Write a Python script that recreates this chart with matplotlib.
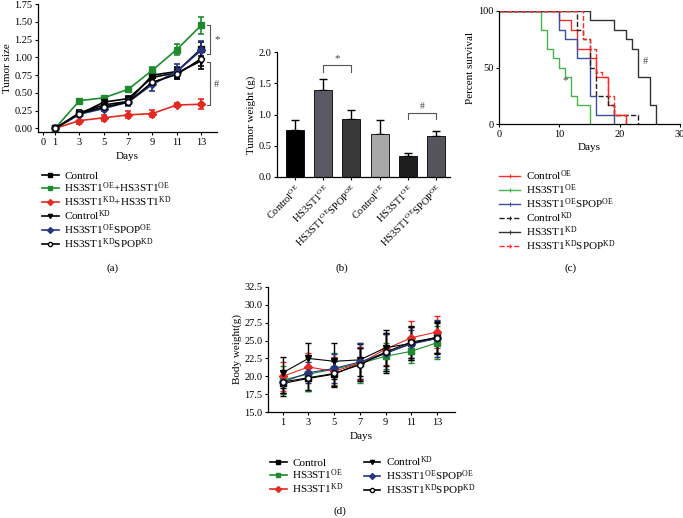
import matplotlib
matplotlib.use("Agg")
import matplotlib.pyplot as plt
from matplotlib.lines import Line2D
import numpy as np

plt.rcParams['font.family'] = ['Liberation Serif', 'DejaVu Serif']
plt.rcParams['mathtext.fontset'] = 'custom'
plt.rcParams['mathtext.rm'] = 'Liberation Serif'
plt.rcParams['mathtext.it'] = 'Liberation Serif:italic'
plt.rcParams['font.size'] = 7.5
plt.rcParams['axes.linewidth'] = 0.9

def sup(a, s):
    return a + r'$^{\mathrm{' + s + '}}$'

# ---------------- Panel (a) data ----------------
days_a = [1, 3, 5, 7, 9, 11, 13]
a_control = [0, 0.22, 0.33, 0.38, 0.75, 0.80, 1.12]
a_control_err = [0, 0.04, 0.05, 0.05, 0.06, 0.07, 0.10]
a_oe = [0, 0.39, 0.43, 0.55, 0.82, 1.11, 1.45]
a_oe_err = [0, 0.03, 0.03, 0.03, 0.04, 0.08, 0.12]
a_kd = [0, 0.11, 0.15, 0.19, 0.21, 0.33, 0.34]
a_kd_err = [0, 0.05, 0.04, 0.05, 0.05, 0.03, 0.07]
a_ctrlkd = [0, 0.20, 0.37, 0.42, 0.72, 0.78, 0.95]
a_ctrlkd_err = [0, 0.03, 0.04, 0.04, 0.06, 0.07, 0.12]
a_oespop = [0, 0.20, 0.28, 0.37, 0.62, 0.80, 1.10]
a_oespop_err = [0, 0.03, 0.04, 0.05, 0.10, 0.10, 0.13]
a_kdspop = [0, 0.21, 0.30, 0.37, 0.65, 0.76, 0.98]
a_kdspop_err = [0, 0.03, 0.04, 0.04, 0.06, 0.06, 0.10]
a_labels = ['Control',
            sup('HS3ST1', 'OE') + '+' + sup('HS3ST1', 'OE'),
            sup('HS3ST1', 'KD') + '+' + sup('HS3ST1', 'KD'),
            sup('Control', 'KD'),
            sup('HS3ST1', 'OE') + sup('SPOP', 'OE'),
            sup('HS3ST1', 'KD') + sup('SPOP', 'KD')]

# ---------------- Panel (b) data ----------------
b_labels = [sup('Control', 'OE'), sup('HS3ST1', 'OE'), sup('HS3ST1', 'OE') + sup('SPOP', 'OE'),
            sup('Control', 'OE'), sup('HS3ST1', 'OE'), sup('HS3ST1', 'OE') + sup('SPOP', 'OE')]
b_values = [0.76, 1.39, 0.93, 0.69, 0.34, 0.66]
b_err = [0.15, 0.18, 0.14, 0.22, 0.05, 0.08]
b_colors = ['#000000', '#5a5a62', '#383838', '#a8a8a8', '#1e1e1e', '#55555c']

# ---------------- Panel (c) data ----------------
c_labels = [sup('Control', 'OE'), sup('HS3ST1', 'OE'), sup('HS3ST1', 'OE') + sup('SPOP', 'OE'),
            sup('Control', 'KD'), sup('HS3ST1', 'KD'), sup('HS3ST1', 'KD') + sup('SPOP', 'KD')]
c_ctrl_oe_t = [0, 10, 12, 13, 15, 16, 18, 19, 21]
c_ctrl_oe_s = [100, 91.7, 83.3, 66.7, 58.3, 41.7, 16.7, 8.3, 0]
c_oe_t = [0, 7, 8, 9, 10, 11, 12, 13, 15]
c_oe_s = [100, 83.3, 66.7, 58.3, 50, 41.7, 25, 16.7, 0]
c_oespop_t = [0, 10, 11, 13, 15, 16, 19]
c_oespop_s = [100, 83.3, 75, 58.3, 25, 8.3, 0]
c_ctrl_kd_t = [0, 13, 14, 15, 16, 18, 19, 23]
c_ctrl_kd_s = [100, 83.3, 75, 50, 25, 16.7, 8.3, 0]
c_kd_t = [0, 15, 19, 21, 22, 23, 25, 26]
c_kd_s = [100, 91.7, 83.3, 75, 66.7, 41.7, 16.7, 0]
c_kdspop_t = [0, 14, 15, 16, 17, 18, 19, 21]
c_kdspop_s = [100, 75, 66.7, 45.8, 41.7, 25, 8.3, 0]

# ---------------- Panel (d) data ----------------
days_d = [1, 3, 5, 7, 9, 11, 13]
d_control = [19.0, 19.7, 20.3, 21.8, 23.2, 24.6, 25.5]
d_control_err = [1.7, 1.8, 1.8, 2.2, 2.7, 2.3, 2.2]
d_oe = [19.5, 20.3, 21.0, 21.8, 22.8, 23.5, 24.7]
d_oe_err = [2.0, 2.3, 2.2, 2.8, 1.8, 1.6, 2.3]
d_kd = [20.0, 21.3, 20.7, 21.8, 23.8, 25.4, 26.2]
d_kd_err = [2.0, 2.0, 2.0, 2.3, 2.2, 2.3, 2.2]
d_ctrlkd = [20.5, 22.5, 22.1, 22.3, 24.0, 24.6, 25.3]
d_ctrlkd_err = [2.2, 2.2, 2.5, 2.2, 2.5, 2.3, 2.2]
d_oespop = [19.2, 20.5, 21.1, 22.0, 23.3, 24.5, 25.3]
d_oespop_err = [1.6, 1.5, 2.0, 2.6, 2.6, 2.0, 2.6]
d_kdspop = [19.2, 19.8, 20.4, 21.6, 23.4, 24.8, 25.4]
d_kdspop_err = [1.6, 1.7, 1.8, 2.3, 2.6, 2.3, 2.2]
d_labels = ['Control', sup('HS3ST1', 'OE'), sup('HS3ST1', 'KD'),
            sup('Control', 'KD'), sup('HS3ST1', 'OE') + sup('SPOP', 'OE'),
            sup('HS3ST1', 'KD') + sup('SPOP', 'KD')]

GREEN = '#1f8a2e'
RED = '#e02a22'
BLUE = '#27357f'

styles = [dict(color='black', marker='s', mfc='black'),
          dict(color=GREEN, marker='s', mfc=GREEN),
          dict(color=RED, marker='D', mfc=RED),
          dict(color='black', marker='v', mfc='black'),
          dict(color=BLUE, marker='D', mfc=BLUE),
          dict(color='black', marker='o', mfc='white')]

W, H = 683, 518
fig = plt.figure(figsize=(W / 100, H / 100), dpi=100)

def rect(l, t, r, b):
    return [l / W, 1 - b / H, (r - l) / W, (b - t) / H]

def style_ax(ax):
    for s in ['top', 'right']:
        ax.spines[s].set_visible(False)
    ax.tick_params(direction='out', length=2.5, width=0.8, labelsize=7.5, pad=1.5)

def proxy(st, lw):
    return Line2D([], [], color=st['color'], marker=st['marker'], mfc=st['mfc'],
                  mec=st['color'], ms=3, lw=lw)

LEGKW = dict(frameon=False, fontsize=8, handletextpad=0.5, labelspacing=-0.05,
             borderaxespad=0, borderpad=0)

# ---------------- (a) ----------------
axa = fig.add_axes(rect(38, 4, 217, 132))
a_series = [(a_control, a_control_err), (a_oe, a_oe_err), (a_kd, a_kd_err),
            (a_ctrlkd, a_ctrlkd_err), (a_oespop, a_oespop_err), (a_kdspop, a_kdspop_err)]
for (vals, err), st, lab in zip(a_series, styles, a_labels):
    axa.errorbar(days_a, vals, yerr=err, color=st['color'], marker=st['marker'],
                 mfc=st['mfc'], mec=st['color'], ms=4, lw=1.2, capsize=2,
                 elinewidth=1.2, capthick=1.2, label=lab)
axa.set_xlim(-0.4, 14.3)
axa.set_ylim(-0.05, 1.75)
axa.set_xticks([0, 1, 3, 5, 7, 9, 11, 13])
axa.set_yticks([0, 0.25, 0.5, 0.75, 1.0, 1.25, 1.5, 1.75])
axa.set_yticklabels(['0.00', '0.25', '0.50', '0.75', '1.00', '1.25', '1.50', '1.75'])
axa.set_xlabel('Days', fontsize=8, labelpad=4)
axa.set_ylabel('Tumor size', fontsize=8, labelpad=2)
style_ax(axa)
bx = 13.7
axa.plot([bx - 0.2, bx, bx, bx - 0.2], [1.45, 1.45, 1.05, 1.05], color='#555555', lw=0.8, clip_on=False)
axa.text(bx + 0.35, 1.25, '*', fontsize=8, va='center', color='#444444')
axa.plot([bx - 0.2, bx, bx, bx - 0.2], [0.93, 0.93, 0.33, 0.33], color='#555555', lw=0.8, clip_on=False)
axa.text(bx + 0.35, 0.62, '#', fontsize=7.5, va='center', color='#444444')

fig.legend(handles=[proxy(st, 1.2) for st in styles], labels=a_labels,
           loc='upper left', bbox_to_anchor=(42 / W, 1 - 171 / H), handlelength=1.5, **LEGKW)
fig.text(113 / W, 1 - 268 / H, '(a)', ha='center', va='center', fontsize=8)

# ---------------- (b) ----------------
axb = fig.add_axes(rect(277, 52, 450, 177))
xb = np.arange(len(b_values))
axb.bar(xb, b_values, width=0.64, color=b_colors, edgecolor='black', linewidth=0.6, zorder=2)
axb.errorbar(xb, b_values, yerr=[np.zeros(len(b_err)), b_err], fmt='none', ecolor='black',
             elinewidth=1.0, capsize=3, capthick=1.0, zorder=1)
axb.set_xlim(-0.64, 5.5)
axb.set_ylim(0, 2.0)
axb.set_yticks([0, 0.5, 1.0, 1.5, 2.0])
axb.set_yticklabels(['0.0', '0.5', '1.0', '1.5', '2.0'])
axb.set_xticks(xb)
axb.set_xticklabels(b_labels, rotation=45, ha='right', rotation_mode='anchor', fontsize=7.5)
axb.set_ylabel('Tumor weight (g)', fontsize=8, labelpad=2)
style_ax(axb)
axb.plot([1, 1, 2, 2], [1.68, 1.80, 1.80, 1.68], color='#555555', lw=0.8)
axb.text(1.5, 1.82, '*', ha='center', va='bottom', fontsize=8, color='#444444')
axb.plot([4, 4, 5, 5], [0.93, 1.03, 1.03, 0.93], color='#555555', lw=0.8)
axb.text(4.5, 1.05, '#', ha='center', va='bottom', fontsize=7, color='#444444')
fig.text(342 / W, 1 - 268 / H, '(b)', ha='center', va='center', fontsize=8)

# ---------------- (c) ----------------
axc = fig.add_axes(rect(499, 11, 680, 124))
c_series = [(c_ctrl_oe_t, c_ctrl_oe_s, '#ff2a2a', '-'),
            (c_oe_t, c_oe_s, '#4caf50', '-'),
            (c_oespop_t, c_oespop_s, '#3f4fa0', '-'),
            (c_ctrl_kd_t, c_ctrl_kd_s, '#222222', '--'),
            (c_kd_t, c_kd_s, '#333333', '-'),
            (c_kdspop_t, c_kdspop_s, '#ff2a2a', '--')]
handles_c = []
for (t, s, col, ls), lab in zip(c_series, c_labels):
    axc.step(t, s, where='post', color=col, ls=ls, lw=1.0, label=lab)
    handles_c.append(Line2D([], [], color=col, ls=ls, lw=1.0, marker='|', ms=3, mew=0.8))
axc.set_xlim(0, 30)
axc.set_ylim(0, 100)
axc.set_xticks([0, 10, 20, 30])
axc.set_yticks([0, 50, 100])
axc.set_xlabel('Days', fontsize=8, labelpad=3)
axc.set_ylabel('Percent survival', fontsize=8, labelpad=2)
style_ax(axc)
axc.text(11, 38, '*', ha='center', va='center', fontsize=8, color='#444444')
axc.text(24.3, 55, '#', ha='center', va='center', fontsize=7.5, color='#444444')
fig.legend(handles=handles_c, labels=c_labels, loc='upper left',
           bbox_to_anchor=(499 / W, 1 - 168 / H), handlelength=1.9, **LEGKW)
fig.text(571 / W, 1 - 268 / H, '(c)', ha='center', va='center', fontsize=8)

# ---------------- (d) ----------------
axd = fig.add_axes(rect(268, 287, 455, 412))
d_series = [(d_control, d_control_err), (d_oe, d_oe_err), (d_kd, d_kd_err),
            (d_ctrlkd, d_ctrlkd_err), (d_oespop, d_oespop_err), (d_kdspop, d_kdspop_err)]
for (vals, err), st, lab in zip(d_series, styles, d_labels):
    axd.errorbar(days_d, vals, yerr=err, color=st['color'], marker=st['marker'],
                 mfc=st['mfc'], mec=st['color'], ms=4, lw=0.8, capsize=2,
                 elinewidth=1.0, capthick=1.0, label=lab)
axd.set_xlim(-0.15, 14.4)
axd.set_ylim(15, 32.5)
axd.set_xticks([1, 3, 5, 7, 9, 11, 13])
axd.set_yticks([15, 17.5, 20, 22.5, 25, 27.5, 30, 32.5])
axd.set_yticklabels(['15.0', '17.5', '20.0', '22.5', '25.0', '27.5', '30.0', '32.5'])
axd.set_xlabel('Days', fontsize=8, labelpad=4)
axd.set_ylabel('Body weight(g)', fontsize=8, labelpad=2)
style_ax(axd)
fig.legend(handles=[proxy(st, 1.2) for st in styles], labels=d_labels,
           loc='upper left', bbox_to_anchor=(270 / W, 1 - 454 / H),
           ncol=2, handlelength=1.5, columnspacing=1.8, **LEGKW)
fig.text(340 / W, 1 - 511 / H, '(d)', ha='center', va='center', fontsize=8)

fig.savefig('out.png', dpi=100)
